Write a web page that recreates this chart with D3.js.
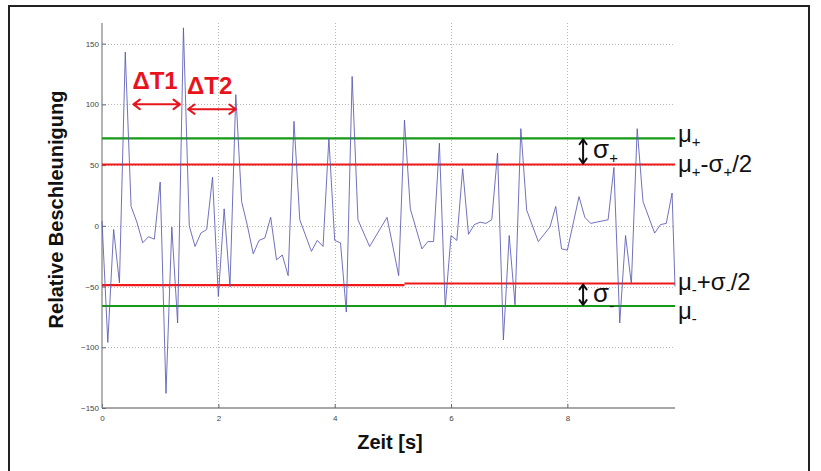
<!DOCTYPE html>
<html>
<head>
<meta charset="utf-8">
<script src="https://cdn.jsdelivr.net/npm/d3@7"></script>
<style>
  body { margin: 0; background: #fff; }
  svg { display: block; }
  text { font-family: "Liberation Sans", Arial, Helvetica, sans-serif; }
</style>
</head>
<body>
<svg id="chart" width="821" height="471"></svg>
<script>
// Acceleration signal (relative units) sampled over time [s]
const times = [0.0, 0.1, 0.2, 0.3, 0.4, 0.5, 0.6, 0.7, 0.8, 0.9,
               1.0, 1.1, 1.2, 1.3, 1.4, 1.5, 1.6, 1.7, 1.8, 1.9,
               2.0, 2.1, 2.2, 2.3, 2.4, 2.5, 2.6, 2.7, 2.8, 2.9,
               3.0, 3.1, 3.2, 3.3, 3.4, 3.6, 3.7, 3.8, 3.9,
               4.0, 4.1, 4.2, 4.3, 4.4, 4.6, 4.9,
               5.1, 5.2, 5.3, 5.5, 5.6, 5.7, 5.8, 5.9,
               6.0, 6.1, 6.2, 6.3, 6.4, 6.5, 6.6, 6.7, 6.8, 6.9,
               7.0, 7.1, 7.2, 7.3, 7.5, 7.6, 7.7, 7.8, 7.9,
               8.0, 8.2, 8.3, 8.4, 8.5, 8.7, 8.8, 8.9,
               9.0, 9.1, 9.2, 9.3, 9.5, 9.6, 9.7, 9.8, 9.85];
const accel = [4, -96, -3, -47, 143, 16, 3, -14, -9, -11,
               36, -138, -1, -80, 163, 0, -17, -6, -3, 40,
               -58, 14, -50, 108, 20, 0, -23, -12, -10, 7,
               -28, -24, -41, 86, 5, -21, -12, -17, 72,
               -12, -14, -71, 123, 5, -17, 7,
               -41, 87, 14, -19, -13, -13, 68, -67,
               -8, -12, 47, -7, 1, 3, 2, 5, 60, -94,
               -8, -65, 80, 13, -13, -7, -1, 16, -19,
               -20, 24, 7, 2, 3, 5, 48, -80,
               -8, -48, 80, 20, -6, 1, 2, 27, -50];

const xTicks = [0, 2, 4, 6, 8];
const yTicks = [-150, -100, -50, 0, 50, 100, 150];

// Threshold levels: mean of maxima/minima and the half-sigma thresholds
const levelValues = [72, 50.5, -48.8, -47.5, -66];
const levelFrom   = [0, 0, 0, 5.2, 0];
const levelTo     = [9.85, 9.85, 5.2, 9.85, 9.85];
const levelColors = ["#169a16", "#f01818", "#f01818", "#f01818", "#169a16"];

// Right-hand level labels: [text, isSubscript]
const levelLabelValues = [72, 50.5, -47.5, -66];
const levelLabelParts = [
  [["μ", 0], ["+", 1]],
  [["μ", 0], ["+", 1], ["-σ", 0], ["+", 1], ["/2", 0]],
  [["μ", 0], ["-", 1], ["+σ", 0], ["-", 1], ["/2", 0]],
  [["μ", 0], ["-", 1]]
];
const levelLabelShift = [4, 8, 6, 13];

// Peak-interval annotations
const intervalNames = ["ΔT1", "ΔT2"];
const intervalStart = [0.54, 1.48];
const intervalEnd   = [1.34, 2.30];
const intervalLevel = [100, 96];

// Sigma annotations (double arrows between levels)
const sigmaTime  = 8.27;
const sigmaTop   = [72, -47.5];
const sigmaBot   = [50.5, -66];
const sigmaSub   = ["+", "-"];

const svg = d3.select("#chart");

// outer frame
svg.append("rect")
  .attr("x", 9).attr("y", 6).attr("width", 800).attr("height", 470)
  .attr("fill", "none").attr("stroke", "#222").attr("stroke-width", 2);

const x = d3.scaleLinear().domain([0, 9.85]).range([102, 675]);
const y = d3.scaleLinear().domain([-150, 167]).range([408, 23]);

// grid
const grid = svg.append("g").attr("stroke", "#b8b8b8").attr("stroke-width", 1)
  .attr("stroke-dasharray", "1,2");
grid.selectAll(".gx").data(xTicks.filter(d => d > 0)).join("line")
  .attr("x1", d => Math.round(x(d)) + 0.5).attr("x2", d => Math.round(x(d)) + 0.5)
  .attr("y1", y(167)).attr("y2", y(-150));
grid.selectAll(".gy").data(yTicks.filter(d => d > -150)).join("line")
  .attr("x1", x(0)).attr("x2", x(9.85))
  .attr("y1", d => Math.round(y(d)) + 0.5).attr("y2", d => Math.round(y(d)) + 0.5);

// axes
const xAxis = d3.axisBottom(x).tickValues(xTicks).tickSize(-4).tickPadding(7)
  .tickFormat(d3.format("d"));
const yAxis = d3.axisLeft(y).tickValues(yTicks).tickSize(-4).tickPadding(3)
  .tickFormat(d3.format("d"));

const gx = svg.append("g").attr("transform", `translate(0,${y(-150)})`).call(xAxis);
const gy = svg.append("g").attr("transform", `translate(${x(0)},0)`).call(yAxis);
[gx, gy].forEach(g => {
  g.select(".domain").attr("stroke", "#8a8a8a").attr("stroke-width", 1.3);
  g.selectAll(".tick line").attr("stroke", "#666");
  g.selectAll(".tick text").attr("fill", "#444").attr("font-size", 8)
    .attr("font-family", "\"Liberation Sans Narrow\", \"Liberation Sans\", Arial, sans-serif");
});
gx.select(".domain").attr("d", `M${x(0)},0H${x(9.85)}`);
gy.select(".domain").attr("d", `M0,${y(167)}V${y(-150)}`);

// level lines
svg.append("g").selectAll("line").data(levelValues).join("line")
  .attr("x1", (d, i) => x(levelFrom[i])).attr("x2", (d, i) => x(levelTo[i]))
  .attr("y1", d => y(d)).attr("y2", d => y(d))
  .attr("stroke", (d, i) => levelColors[i]).attr("stroke-width", 2.2);

// signal
const line = d3.line().x(d => x(d[0])).y(d => y(d[1]));
svg.append("path")
  .datum(times.map((t, i) => [t, accel[i]]))
  .attr("d", line)
  .attr("fill", "none").attr("stroke", "#5858b4").attr("stroke-width", 1)
  .attr("stroke-opacity", 0.85).attr("stroke-linejoin", "round");

// level labels
levelLabelValues.forEach((v, i) => {
  const t = svg.append("text")
    .attr("x", x(9.85) + 3)
    .attr("y", y(v) + levelLabelShift[i])
    .attr("font-size", 24).attr("fill", "#111");
  let sub = false;
  levelLabelParts[i].forEach(([s, isSub]) => {
    const ts = t.append("tspan").text(s);
    if (isSub && !sub) { ts.attr("dy", 5).attr("font-size", 15); sub = true; }
    else if (isSub) { ts.attr("font-size", 15); }
    else if (sub) { ts.attr("dy", -5); sub = false; }
  });
});

// double arrow helper
function doubleArrow(g, x1, y1, x2, y2, color, head, width) {
  const ang = Math.atan2(y2 - y1, x2 - x1);
  const a = Math.PI / 5;
  const p = (xx, yy, dir) => {
    const b = ang + (dir ? Math.PI : 0);
    return `M${xx + head * Math.cos(b + a)},${yy + head * Math.sin(b + a)}L${xx},${yy}L${xx + head * Math.cos(b - a)},${yy + head * Math.sin(b - a)}`;
  };
  g.append("path")
    .attr("d", `M${x1},${y1}L${x2},${y2}` + p(x1, y1, false) + p(x2, y2, true))
    .attr("fill", "none").attr("stroke", color).attr("stroke-width", width)
    .attr("stroke-linecap", "round").attr("stroke-linejoin", "round");
}

// peak interval annotations
const ann = svg.append("g");
intervalNames.forEach((name, i) => {
  doubleArrow(ann, x(intervalStart[i]), y(intervalLevel[i]), x(intervalEnd[i]), y(intervalLevel[i]),
    "#e8141c", 8, 2);
  ann.append("text")
    .attr("x", x(intervalStart[i]) - 1).attr("y", y(intervalLevel[i]) - 15)
    .attr("font-size", 24).attr("font-weight", "bold").attr("fill", "#e8141c")
    .text(name);
});

// sigma annotations
sigmaTop.forEach((v, i) => {
  doubleArrow(ann, x(sigmaTime), y(v) + 1, x(sigmaTime), y(sigmaBot[i]) - 1, "#111", 6, 2);
  const t = ann.append("text")
    .attr("x", x(sigmaTime) + 10).attr("y", (y(v) + y(sigmaBot[i])) / 2 + 7)
    .attr("font-size", 26).attr("fill", "#111");
  t.append("tspan").text("σ");
  t.append("tspan").attr("dy", i === 0 ? 5 : 9).attr("font-size", 15).text(sigmaSub[i]);
});

// axis titles
svg.append("text")
  .attr("transform", `translate(63,${(y(167) + y(-150)) / 2 - 6}) rotate(-90)`)
  .attr("text-anchor", "middle").attr("font-size", 20).attr("font-weight", "bold")
  .attr("fill", "#111").text("Relative Beschleunigung");
svg.append("text")
  .attr("x", 390).attr("y", 449)
  .attr("text-anchor", "middle").attr("font-size", 20).attr("font-weight", "bold")
  .attr("fill", "#111").text("Zeit [s]");
</script>
</body>
</html>
